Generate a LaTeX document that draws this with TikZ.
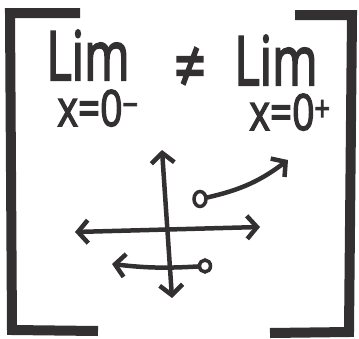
\documentclass[tikz,border=0pt]{standalone}
\usepackage{fontspec}
\setmainfont{Open Sans}[FakeBold=3]
\usetikzlibrary{arrows.meta,shapes.geometric}
\definecolor{ink}{HTML}{333031}
\tikzset{
  >={Straight Barb[length=10pt,width=23pt]},
  bracket/.style={draw=ink,line width=10pt,line join=miter},
  axis/.style={<->,draw=ink,line width=4.5pt,line cap=round},
  limit/.style={->,draw=ink,line width=4.5pt,line cap=round},
  opendot/.style={ellipse,draw=ink,line width=3.5pt,inner sep=0pt,
                  minimum width=12pt,minimum height=15pt},
  limword/.style={text=ink,inner sep=0pt,anchor=base,text depth=0pt,
                  text height=48pt,font=\fontsize{68}{68}\selectfont},
  limsub/.style={text=ink,inner sep=0pt,anchor=base,text depth=0pt,
                 text height=34pt,font=\fontsize{50}{50}\selectfont}
}

\begin{document}
\begin{tikzpicture}[x=1pt,y=-1pt]
  \useasboundingbox (0,0) rectangle (359,338);

  % brackets
  \draw[bracket] (80,13) -- (10,13) -- (12,330) -- (98,331);
  \draw[bracket] (295,15) -- (352,15) -- (349,332) -- (270,333);

  % the two one-sided limits
  \node[limword] (limleft) at (88,80) {\scalebox{0.72}[1]{Lim}};
  \node[limsub] (subleft) at (98,126) {\scalebox{0.78}[1]{x=0\textsuperscript{−}}};
  \node[limword] (neq) at (190,90) {\scalebox{0.8}[1]{≠}};
  \node[limword] (limright) at (276,85) {\scalebox{0.72}[1]{Lim}};
  \node[limsub] (subright) at (290,130) {\scalebox{0.78}[1]{x=0\textsuperscript{+}}};

  % axes
  \coordinate (ytop) at (162,150);
  \coordinate (ybot) at (172,298);
  \coordinate (xleft) at (75,232);
  \coordinate (xright) at (260,227);
  \draw[axis] (ybot) -- (ytop);
  \draw[axis] (xleft) -- (xright);

  % right-hand and left-hand branches
  \node[opendot] (openup) at (200,199) {};
  \coordinate (tipup) at (288,160);
  \draw[limit] (openup) to[bend right=12] (tipup);

  \node[opendot,minimum width=11pt,minimum height=12pt] (opendown) at (205,266) {};
  \coordinate (tipdown) at (112,264);
  \draw[limit] (opendown) to[bend left=5] (tipdown);
\end{tikzpicture}
\end{document}
